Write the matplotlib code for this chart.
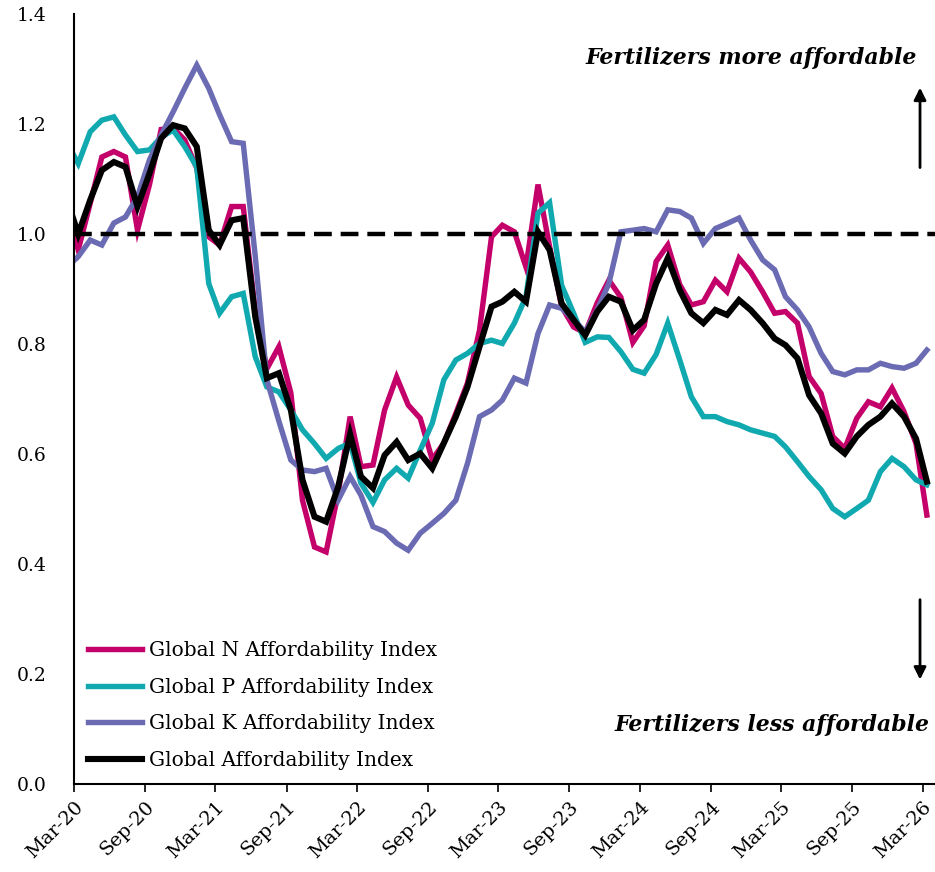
import numpy as np
import pandas as pd
import matplotlib
matplotlib.use('Agg')
import matplotlib.pyplot as plt
import matplotlib.dates as mdates

plt.rcParams['font.family'] = ['DejaVu Serif']

# monthly index values, Feb-20 (clipped by the axis) through Mar-26
dates = pd.date_range('2020-02-01', periods=74, freq='MS') + pd.Timedelta(days=11)

n_index = [1.047, 0.971, 1.056, 1.14, 1.15, 1.14, 1.007, 1.09, 1.19, 1.193, 1.171, 1.12,
           0.995, 0.98, 1.05, 1.05, 0.86, 0.755, 0.795, 0.711, 0.516, 0.431, 0.422, 0.529,
           0.668, 0.577, 0.58, 0.68, 0.74, 0.689, 0.665, 0.59, 0.62, 0.674, 0.729, 0.825,
           0.995, 1.016, 1.004, 0.94, 1.09, 0.977, 0.868, 0.831, 0.82, 0.875, 0.916, 0.885,
           0.803, 0.833, 0.95, 0.98, 0.908, 0.871, 0.877, 0.916, 0.895, 0.956, 0.931, 0.895,
           0.856, 0.859, 0.838, 0.741, 0.71, 0.632, 0.61, 0.665, 0.695, 0.686, 0.72, 0.677,
           0.619, 0.489]

p_index = [1.166, 1.128, 1.186, 1.207, 1.213, 1.18, 1.15, 1.153, 1.176, 1.189, 1.159, 1.122,
           0.91, 0.856, 0.886, 0.892, 0.777, 0.722, 0.713, 0.68, 0.644, 0.619, 0.592, 0.61,
           0.62, 0.547, 0.512, 0.553, 0.574, 0.556, 0.607, 0.656, 0.735, 0.771, 0.783, 0.801,
           0.807, 0.801, 0.838, 0.886, 1.038, 1.057, 0.907, 0.856, 0.803, 0.813, 0.812, 0.786,
           0.754, 0.747, 0.781, 0.838, 0.771, 0.704, 0.668, 0.668, 0.659, 0.653, 0.644, 0.638,
           0.632, 0.613, 0.586, 0.559, 0.535, 0.501, 0.486, 0.501, 0.516, 0.568, 0.592, 0.577,
           0.553, 0.544]

k_index = [0.94, 0.959, 0.989, 0.98, 1.02, 1.031, 1.068, 1.135, 1.18, 1.222, 1.265, 1.307,
           1.265, 1.217, 1.168, 1.165, 0.96, 0.735, 0.66, 0.589, 0.571, 0.568, 0.574, 0.516,
           0.559, 0.525, 0.468, 0.459, 0.438, 0.425, 0.456, 0.474, 0.492, 0.516, 0.583, 0.668,
           0.68, 0.698, 0.738, 0.729, 0.819, 0.871, 0.865, 0.844, 0.822, 0.862, 0.91, 1.004,
           1.007, 1.01, 1.004, 1.044, 1.041, 1.029, 0.983, 1.01, 1.019, 1.029, 0.989, 0.953,
           0.935, 0.886, 0.862, 0.831, 0.783, 0.75, 0.744, 0.753, 0.753, 0.765, 0.759, 0.756,
           0.765, 0.789]

global_index = [1.0625, 1.0, 1.062, 1.116, 1.131, 1.122, 1.05, 1.11, 1.174, 1.198, 1.192, 1.159,
                1.007, 0.98, 1.025, 1.029, 0.85, 0.738, 0.747, 0.68, 0.553, 0.486, 0.477, 0.54,
                0.636, 0.559, 0.538, 0.598, 0.622, 0.589, 0.601, 0.574, 0.62, 0.668, 0.722, 0.795,
                0.868, 0.877, 0.895, 0.877, 1.004, 0.971, 0.874, 0.844, 0.816, 0.859, 0.886, 0.877,
                0.825, 0.844, 0.91, 0.956, 0.898, 0.856, 0.838, 0.862, 0.853, 0.88, 0.862, 0.838,
                0.81, 0.798, 0.774, 0.707, 0.674, 0.619, 0.601, 0.632, 0.653, 0.668, 0.692, 0.668,
                0.628, 0.55]

labels = ['Global N Affordability Index', 'Global P Affordability Index',
          'Global K Affordability Index', 'Global Affordability Index']
colors = ['#C4006A', '#10A9B0', '#6B6BB3', '#000000']
parity = 1.0

fig = plt.figure(figsize=(9.35, 8.72), dpi=100)
ax = fig.add_axes([0.0791, 0.1009, 0.9209, 0.883])

ax.axhline(parity, color='black', lw=3.2, ls=(0, (4, 2)), zorder=3)
for vals, lab, col in zip([n_index, p_index, k_index, global_index], labels, colors):
    lw = 4.4 if col == '#000000' else 3.9
    ax.plot(dates, vals, color=col, lw=lw, label=lab, solid_joinstyle='miter')

ax.set_ylim(0, 1.4)
ax.set_yticks(np.arange(0, 1.41, 0.2))
ax.yaxis.set_major_formatter(matplotlib.ticker.FormatStrFormatter('%.1f'))
ax.set_xlim(pd.Timestamp('2020-03-01'), pd.Timestamp('2026-04-02'))
ax.set_xticks(pd.date_range('2020-03-01', '2026-03-01', freq='6MS'))
ax.xaxis.set_major_formatter(mdates.DateFormatter('%b-%y'))
plt.setp(ax.get_xticklabels(), rotation=45, ha='right', rotation_mode='anchor', fontsize=14)
ax.tick_params(axis='y', length=0, labelsize=13.5, pad=20)
ax.tick_params(axis='x', length=6, width=1.2, direction='out', pad=4)

for s in ['top', 'right']:
    ax.spines[s].set_visible(False)
for s in ['left', 'bottom']:
    ax.spines[s].set_linewidth(1.5)

ax.legend(loc='lower left', bbox_to_anchor=(0.0, 0.0), frameon=False, fontsize=14.5,
          handlelength=2.7, handletextpad=0.35, labelspacing=0.87, borderaxespad=0.3)

ax.text(0.979, 0.943, 'Fertilizers more affordable', transform=ax.transAxes, ha='right',
        va='center', fontsize=15.8, fontweight='bold', fontstyle='italic')
ax.text(0.994, 0.077, 'Fertilizers less affordable', transform=ax.transAxes, ha='right',
        va='center', fontsize=15.8, fontweight='bold', fontstyle='italic')
ax.annotate('', xy=(0.9826, 0.908), xytext=(0.9826, 0.797), xycoords='axes fraction',
            arrowprops=dict(arrowstyle='-|>', color='black', lw=2, mutation_scale=18))
ax.annotate('', xy=(0.9826, 0.132), xytext=(0.9826, 0.243), xycoords='axes fraction',
            arrowprops=dict(arrowstyle='-|>', color='black', lw=2, mutation_scale=18))

fig.savefig('out.png', dpi=100)
